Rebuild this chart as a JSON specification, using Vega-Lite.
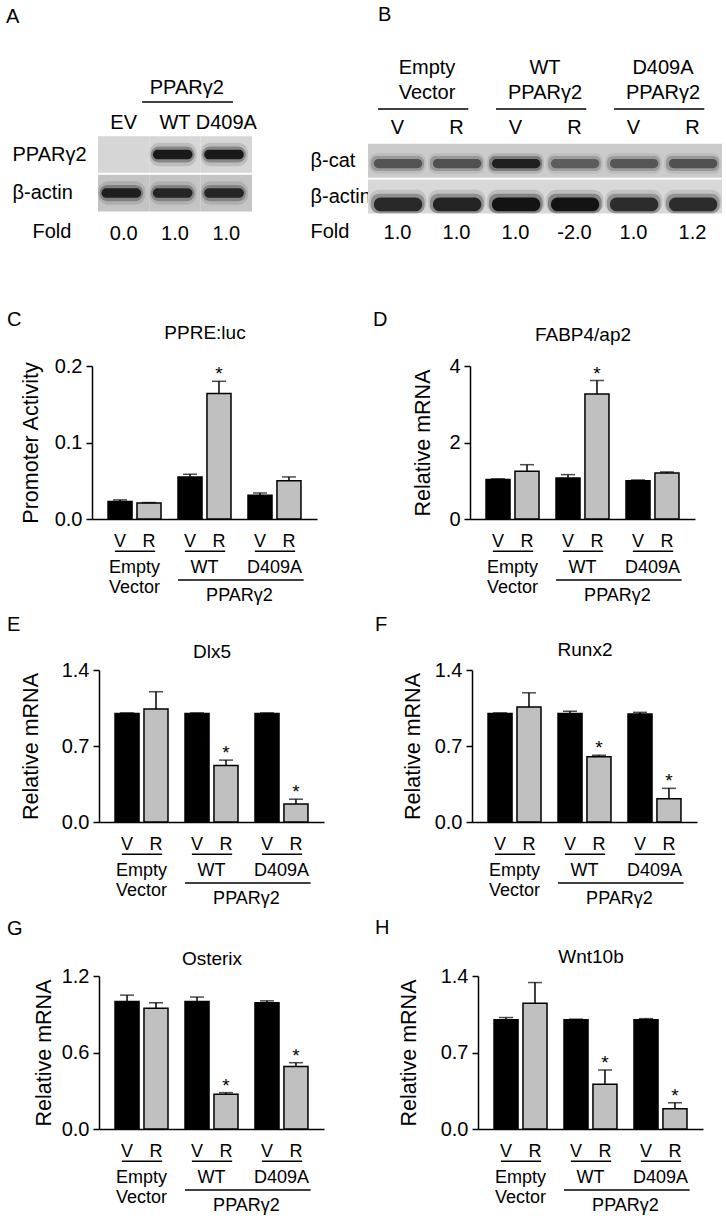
{
"$schema": "https://vega.github.io/schema/vega-lite/v6.json",
"padding": {"left": 0, "top": 5, "right": 0, "bottom": 0},
"config": {
 "font": "Liberation Sans",
 "view": {"stroke": null},
 "axis": {"labelColor": "black", "titleColor": "black", "domainColor": "black", "tickColor": "black", "grid": false, "titleFontWeight": "normal", "labelFont": "Liberation Sans", "titleFont": "Liberation Sans"},
 "axisQuantitative": {"tickSize": 6, "tickWidth": 1.5, "domainWidth": 1.5, "labelFontSize": 20, "labelPadding": 4, "titleFontSize": 21.5},
 "title": {"fontSize": 20, "fontWeight": "normal", "color": "black", "anchor": "start", "frame": "group", "font": "Liberation Sans"},
 "text": {"color": "black", "font": "Liberation Sans"}
},
"datasets": {
 "bars": [
  {"panel":"C","group":"EV","trt":"V","value":0.023,"hi":0.025,"sig":""},
  {"panel":"C","group":"EV","trt":"R","value":0.021,"hi":0.0215,"sig":""},
  {"panel":"C","group":"WT","trt":"V","value":0.055,"hi":0.0585,"sig":""},
  {"panel":"C","group":"WT","trt":"R","value":0.164,"hi":0.18,"sig":"*"},
  {"panel":"C","group":"D409A","trt":"V","value":0.031,"hi":0.034,"sig":""},
  {"panel":"C","group":"D409A","trt":"R","value":0.05,"hi":0.055,"sig":""},
  {"panel":"D","group":"EV","trt":"V","value":1.03,"hi":1.05,"sig":""},
  {"panel":"D","group":"EV","trt":"R","value":1.25,"hi":1.42,"sig":""},
  {"panel":"D","group":"WT","trt":"V","value":1.07,"hi":1.16,"sig":""},
  {"panel":"D","group":"WT","trt":"R","value":3.27,"hi":3.62,"sig":"*"},
  {"panel":"D","group":"D409A","trt":"V","value":1.0,"hi":1.02,"sig":""},
  {"panel":"D","group":"D409A","trt":"R","value":1.2,"hi":1.23,"sig":""},
  {"panel":"E","group":"EV","trt":"V","value":1.0,"hi":1.005,"sig":""},
  {"panel":"E","group":"EV","trt":"R","value":1.04,"hi":1.2,"sig":""},
  {"panel":"E","group":"WT","trt":"V","value":1.0,"hi":1.005,"sig":""},
  {"panel":"E","group":"WT","trt":"R","value":0.52,"hi":0.57,"sig":"*"},
  {"panel":"E","group":"D409A","trt":"V","value":1.0,"hi":1.005,"sig":""},
  {"panel":"E","group":"D409A","trt":"R","value":0.165,"hi":0.21,"sig":"*"},
  {"panel":"F","group":"EV","trt":"V","value":1.0,"hi":1.005,"sig":""},
  {"panel":"F","group":"EV","trt":"R","value":1.06,"hi":1.19,"sig":""},
  {"panel":"F","group":"WT","trt":"V","value":1.0,"hi":1.02,"sig":""},
  {"panel":"F","group":"WT","trt":"R","value":0.6,"hi":0.615,"sig":"*"},
  {"panel":"F","group":"D409A","trt":"V","value":0.995,"hi":1.01,"sig":""},
  {"panel":"F","group":"D409A","trt":"R","value":0.215,"hi":0.31,"sig":"*"},
  {"panel":"G","group":"EV","trt":"V","value":1.0,"hi":1.05,"sig":""},
  {"panel":"G","group":"EV","trt":"R","value":0.947,"hi":0.99,"sig":""},
  {"panel":"G","group":"WT","trt":"V","value":1.0,"hi":1.035,"sig":""},
  {"panel":"G","group":"WT","trt":"R","value":0.272,"hi":0.285,"sig":"*"},
  {"panel":"G","group":"D409A","trt":"V","value":0.99,"hi":1.005,"sig":""},
  {"panel":"G","group":"D409A","trt":"R","value":0.49,"hi":0.52,"sig":"*"},
  {"panel":"H","group":"EV","trt":"V","value":1.0,"hi":1.02,"sig":""},
  {"panel":"H","group":"EV","trt":"R","value":1.15,"hi":1.34,"sig":""},
  {"panel":"H","group":"WT","trt":"V","value":1.0,"hi":1.005,"sig":""},
  {"panel":"H","group":"WT","trt":"R","value":0.41,"hi":0.54,"sig":"*"},
  {"panel":"H","group":"D409A","trt":"V","value":1.0,"hi":1.01,"sig":""},
  {"panel":"H","group":"D409A","trt":"R","value":0.185,"hi":0.24,"sig":"*"}
 ],
 "trtlabs": [
  {"group":"EV","trt":"V","tier":"trt"},{"group":"EV","trt":"R","tier":"trt"},
  {"group":"WT","trt":"V","tier":"trt"},{"group":"WT","trt":"R","tier":"trt"},
  {"group":"D409A","trt":"V","tier":"trt"},{"group":"D409A","trt":"R","tier":"trt"}
 ],
 "grplabs": [
  {"group":"EV","label":"Empty\nVector","tier":"grp"},
  {"group":"WT","label":"WT","tier":"grp"},
  {"group":"D409A","label":"D409A","tier":"grp"}
 ],
 "family": [{"from":"WT","to":"D409A","label":"PPARγ2","tier":"fam"}],
 "blotA": [
  {"lane":"EV","protein":"PPARγ2","level":0},
  {"lane":"WT","protein":"PPARγ2","level":0.95},
  {"lane":"D409A","protein":"PPARγ2","level":0.95},
  {"lane":"EV","protein":"β-actin","level":0.9},
  {"lane":"WT","protein":"β-actin","level":0.85},
  {"lane":"D409A","protein":"β-actin","level":0.85}
 ],
 "blotAfold": [{"lane":"EV","fold":"0.0"},{"lane":"WT","fold":"1.0"},{"lane":"D409A","fold":"1.0"}],
 "blotAhead": [{"from":"EV","to":"D409A","center":"WT","label":"PPARγ2"}],
 "blotB": [
  {"lane":"EV V","protein":"β-cat","level":0.6},
  {"lane":"EV R","protein":"β-cat","level":0.62},
  {"lane":"WT V","protein":"β-cat","level":1.0},
  {"lane":"WT R","protein":"β-cat","level":0.55},
  {"lane":"D V","protein":"β-cat","level":0.58},
  {"lane":"D R","protein":"β-cat","level":0.62},
  {"lane":"EV V","protein":"β-actin","level":0.85},
  {"lane":"EV R","protein":"β-actin","level":0.88},
  {"lane":"WT V","protein":"β-actin","level":1.0},
  {"lane":"WT R","protein":"β-actin","level":1.0},
  {"lane":"D V","protein":"β-actin","level":0.82},
  {"lane":"D R","protein":"β-actin","level":0.82}
 ],
 "blotBlanes": [
  {"lane":"EV V","label":"V"},{"lane":"EV R","label":"R"},
  {"lane":"WT V","label":"V"},{"lane":"WT R","label":"R"},
  {"lane":"D V","label":"V"},{"lane":"D R","label":"R"}
 ],
 "blotBfold": [
  {"lane":"EV V","fold":"1.0"},{"lane":"EV R","fold":"1.0"},
  {"lane":"WT V","fold":"1.0"},{"lane":"WT R","fold":"-2.0"},
  {"lane":"D V","fold":"1.0"},{"lane":"D R","fold":"1.2"}
 ],
 "blotBhead": [
  {"from":"EV V","to":"EV R","label":"Empty\nVector"},
  {"from":"WT V","to":"WT R","label":"WT\nPPARγ2"},
  {"from":"D V","to":"D R","label":"D409A\nPPARγ2"}
 ]
},
"spacing": 10,
"resolve": {"scale": {"xOffset": "independent"}},
"vconcat": [
 {
  "hconcat": [
   {"width": 6, "height": 1, "data": {"values": []}, "mark": "rect"},
   {
    "width": 154, "height": 191,
    "title": {"text": "A", "dx": -92, "offset": 32.5},
    "layer": [
     {"data": {"name": "blotA"}, "mark": {"type": "rect"},
      "encoding": {
       "x": {"field": "lane", "type": "nominal", "scale": {"domain": ["EV","WT","D409A"], "paddingInner": 0, "paddingOuter": 0}, "axis": null},
       "y": {"field": "protein", "type": "nominal", "scale": {"domain": ["head","lane","PPARγ2","β-actin","Fold"], "paddingInner": 0.05, "paddingOuter": 0},
             "axis": {"title": null, "ticks": false, "tickSize": 0, "domain": false, "labelAlign": "left", "labelFontSize": 20, "zindex": 0,
                      "labelPadding": {"condition": {"test": "datum.value === 'Fold'", "value": 66}, "value": 86},
                      "labelExpr": "datum.value === 'head' || datum.value === 'lane' ? '' : datum.value"}},
       "fill": {"condition": {"test": "datum.protein === 'PPARγ2'", "value": "#d6d6d6"}, "value": "#c4c4c4"}
      }},
     {"data": {"name": "blotA"}, "mark": {"type": "rect", "cornerRadius": 10, "fill": "black", "opacity": 0.12},
      "encoding": {
       "x": {"field": "lane", "type": "nominal", "bandPosition": 0.0},
       "x2": {"field": "lane", "bandPosition": 0.92},
       "y": {"field": "protein", "type": "nominal", "bandPosition": 0.18},
       "y2": {"field": "protein", "bandPosition": 0.82},
       "fillOpacity": {"field": "level", "type": "quantitative", "scale": null}
      }},
     {"data": {"name": "blotA"}, "mark": {"type": "rect", "cornerRadius": 8, "fill": "black", "opacity": 0.3},
      "encoding": {
       "x": {"field": "lane", "type": "nominal", "bandPosition": 0.03},
       "x2": {"field": "lane", "bandPosition": 0.88},
       "y": {"field": "protein", "type": "nominal", "bandPosition": 0.28},
       "y2": {"field": "protein", "bandPosition": 0.72},
       "fillOpacity": {"field": "level", "type": "quantitative", "scale": null}
      }},
     {"data": {"name": "blotA"}, "mark": {"type": "rect", "cornerRadius": 6, "fill": "#0a0a0a", "opacity": 0.92},
      "encoding": {
       "x": {"field": "lane", "type": "nominal", "bandPosition": 0.07},
       "x2": {"field": "lane", "bandPosition": 0.84},
       "y": {"field": "protein", "type": "nominal", "bandPosition": 0.37},
       "y2": {"field": "protein", "bandPosition": 0.63},
       "fillOpacity": {"field": "level", "type": "quantitative", "scale": null}
      }},
     {"data": {"name": "blotA"}, "transform": [{"filter": "datum.protein === 'PPARγ2'"}],
      "mark": {"type": "text", "fontSize": 20},
      "encoding": {
       "x": {"field": "lane", "type": "nominal"},
       "y": {"datum": "lane", "type": "nominal", "bandPosition": 0.69},
       "text": {"field": "lane"}
      }},
     {"data": {"name": "blotAfold"}, "mark": {"type": "text", "fontSize": 20},
      "encoding": {
       "x": {"field": "lane", "type": "nominal"},
       "y": {"datum": "Fold", "type": "nominal", "bandPosition": 0.55},
       "text": {"field": "fold"}
      }},
     {"data": {"name": "blotAhead"}, "mark": {"type": "text", "fontSize": 20},
      "encoding": {
       "x": {"field": "center", "type": "nominal", "bandPosition": 0.73},
       "y": {"datum": "head", "type": "nominal", "bandPosition": 0.79},
       "text": {"field": "label"}
      }},
     {"data": {"name": "blotAhead"}, "mark": {"type": "rule", "strokeWidth": 1.5, "color": "black"},
      "encoding": {
       "x": {"field": "from", "type": "nominal", "bandPosition": 0.86},
       "x2": {"field": "to", "bandPosition": 0.63},
       "y": {"datum": "lane", "type": "nominal", "bandPosition": 0.12}
      }}
    ]
   },
   {"width": 53, "height": 1, "data": {"values": []}, "mark": "rect"},
   {
    "width": 354, "height": 190.5,
    "title": {"text": "B", "dx": 10, "offset": 32.5},
    "layer": [
     {"data": {"name": "blotB"}, "mark": {"type": "rect"},
      "encoding": {
       "x": {"field": "lane", "type": "nominal", "scale": {"domain": ["EV V","EV R","WT V","WT R","D V","D R"], "paddingInner": 0, "paddingOuter": 0}, "axis": null},
       "y": {"field": "protein", "type": "nominal", "scale": {"domain": ["head","vr","β-cat","β-actin","Fold"], "paddingInner": 0.05, "paddingOuter": 0.18, "align": 1},
             "axis": {"title": null, "ticks": false, "tickSize": 0, "domain": false, "labelAlign": "left", "labelFontSize": 20, "labelPadding": 58, "zindex": 0,
                      "labelExpr": "datum.value === 'head' || datum.value === 'vr' ? '' : datum.value"}},
       "fill": {"condition": {"test": "datum.protein === 'β-cat'", "value": "#cbcbcb"}, "value": "#d8d8d8"}
      }},
     {"data": {"name": "blotB"}, "transform": [{"filter": "datum.protein === 'β-cat'"}],
      "mark": {"type": "rect", "cornerRadius": 8, "fill": "black", "opacity": 0.12},
      "encoding": {
       "x": {"field": "lane", "type": "nominal", "bandPosition": 0.02},
       "x2": {"field": "lane", "bandPosition": 0.98},
       "y": {"field": "protein", "type": "nominal", "bandPosition": 0.28},
       "y2": {"field": "protein", "bandPosition": 0.88},
       "fillOpacity": {"field": "level", "type": "quantitative", "scale": null}
      }},
     {"data": {"name": "blotB"}, "transform": [{"filter": "datum.protein === 'β-cat'"}],
      "mark": {"type": "rect", "cornerRadius": 6, "fill": "black", "opacity": 0.3},
      "encoding": {
       "x": {"field": "lane", "type": "nominal", "bandPosition": 0.05},
       "x2": {"field": "lane", "bandPosition": 0.95},
       "y": {"field": "protein", "type": "nominal", "bandPosition": 0.36},
       "y2": {"field": "protein", "bandPosition": 0.8},
       "fillOpacity": {"field": "level", "type": "quantitative", "scale": null}
      }},
     {"data": {"name": "blotB"}, "transform": [{"filter": "datum.protein === 'β-cat'"}],
      "mark": {"type": "rect", "cornerRadius": 5, "fill": "#111111", "opacity": 0.85},
      "encoding": {
       "x": {"field": "lane", "type": "nominal", "bandPosition": 0.1},
       "x2": {"field": "lane", "bandPosition": 0.92},
       "y": {"field": "protein", "type": "nominal", "bandPosition": 0.45},
       "y2": {"field": "protein", "bandPosition": 0.72},
       "fillOpacity": {"field": "level", "type": "quantitative", "scale": null}
      }},
     {"data": {"name": "blotB"}, "transform": [{"filter": "datum.protein === 'β-actin'"}],
      "mark": {"type": "rect", "cornerRadius": 10, "fill": "black", "opacity": 0.12},
      "encoding": {
       "x": {"field": "lane", "type": "nominal", "bandPosition": 0.02},
       "x2": {"field": "lane", "bandPosition": 0.99},
       "y": {"field": "protein", "type": "nominal", "bandPosition": 0.3},
       "y2": {"field": "protein", "bandPosition": 1.0},
       "fillOpacity": {"field": "level", "type": "quantitative", "scale": null}
      }},
     {"data": {"name": "blotB"}, "transform": [{"filter": "datum.protein === 'β-actin'"}],
      "mark": {"type": "rect", "cornerRadius": 8, "fill": "black", "opacity": 0.3},
      "encoding": {
       "x": {"field": "lane", "type": "nominal", "bandPosition": 0.05},
       "x2": {"field": "lane", "bandPosition": 0.96},
       "y": {"field": "protein", "type": "nominal", "bandPosition": 0.42},
       "y2": {"field": "protein", "bandPosition": 0.99},
       "fillOpacity": {"field": "level", "type": "quantitative", "scale": null}
      }},
     {"data": {"name": "blotB"}, "transform": [{"filter": "datum.protein === 'β-actin'"}],
      "mark": {"type": "rect", "cornerRadius": 7, "fill": "#0a0a0a", "opacity": 0.92},
      "encoding": {
       "x": {"field": "lane", "type": "nominal", "bandPosition": 0.1},
       "x2": {"field": "lane", "bandPosition": 0.92},
       "y": {"field": "protein", "type": "nominal", "bandPosition": 0.53},
       "y2": {"field": "protein", "bandPosition": 0.93},
       "fillOpacity": {"field": "level", "type": "quantitative", "scale": null}
      }},
     {"data": {"name": "blotBlanes"}, "mark": {"type": "text", "fontSize": 20},
      "encoding": {
       "x": {"field": "lane", "type": "nominal"},
       "y": {"datum": "vr", "type": "nominal", "bandPosition": 0.59},
       "text": {"field": "label"}
      }},
     {"data": {"name": "blotBfold"}, "mark": {"type": "text", "fontSize": 20},
      "encoding": {
       "x": {"field": "lane", "type": "nominal"},
       "y": {"datum": "Fold", "type": "nominal", "bandPosition": 0.52},
       "text": {"field": "fold"}
      }},
     {"data": {"name": "blotBhead"}, "mark": {"type": "text", "fontSize": 20, "lineBreak": "\n", "lineHeight": 25, "dy": -12.5},
      "encoding": {
       "x": {"field": "from", "type": "nominal", "bandPosition": 1.0},
       "y": {"datum": "head", "type": "nominal", "bandPosition": 0.25},
       "text": {"field": "label"}
      }},
     {"data": {"name": "blotBhead"}, "mark": {"type": "rule", "strokeWidth": 1.5, "color": "black"},
      "encoding": {
       "x": {"field": "from", "type": "nominal", "bandPosition": 0.17},
       "x2": {"field": "to", "bandPosition": 0.7},
       "y": {"datum": "vr", "type": "nominal", "bandPosition": 0.035}
      }}
    ]
   }
  ],
  "spacing": 0,
  "resolve": {"scale": {"xOffset": "independent"}}
 },
 {"width": 1, "height": 40, "data": {"values": []}, "mark": "rect"},
 {
  "hconcat": [
   {"width": 7, "height": 1, "data": {"values": []}, "mark": "rect"},
   {
    "vconcat": [
     {
      "width": 225, "height": 153,
      "title": {"text": "C", "dx": -85, "offset": -7},
      "data": {"name": "bars"},
      "transform": [{"filter": "datum.panel === 'C'"}],
      "resolve": {"axis": {"x": "independent"}},
      "layer": [
       {"mark": {"type": "bar", "stroke": "black", "strokeWidth": 1.5},
        "encoding": {
         "x": {"field": "group", "type": "nominal", "sort": null, "scale": {"domain": ["EV","WT","D409A"], "paddingInner": 0.243, "paddingOuter": 0.229}, "axis": {"orient": "bottom", "labels": false, "ticks": false, "title": null, "domainWidth": 1.5, "domainColor": "black"}},
         "xOffset": {"field": "trt", "type": "nominal", "scale": {"domain": ["V","R"], "paddingInner": 0.17, "paddingOuter": 0}},
         "y": {"field": "value", "type": "quantitative", "title": "Promoter Activity", "scale": {"domain": [0, 0.2], "nice": false}, "axis": {"values": [0, 0.1, 0.2], "format": ".1f", "title": "Promoter Activity", "titlePadding": 12}},
         "fill": {"condition": {"test": "datum.trt === 'V'", "value": "black"}, "value": "#c0c0c0"}
        }},
       {"mark": {"type": "rule", "strokeWidth": 1.5, "color": "black"},
        "encoding": {
         "x": {"field": "group", "type": "nominal", "axis": {"orient": "top", "labels": false, "ticks": false, "domain": false, "title": "PPRE:luc", "titleFontSize": 19, "titlePadding": 24}},
         "xOffset": {"field": "trt", "type": "nominal"},
         "y": {"field": "value", "type": "quantitative", "title": "Promoter Activity"},
         "y2": {"field": "hi"}
        }},
       {"mark": {"type": "tick", "orient": "horizontal", "size": 14, "thickness": 1.5, "color": "black"},
        "encoding": {
         "x": {"field": "group", "type": "nominal", "axis": null},
         "xOffset": {"field": "trt", "type": "nominal"},
         "y": {"field": "hi", "type": "quantitative", "title": "Promoter Activity"}
        }},
       {"mark": {"type": "text", "baseline": "alphabetic", "dy": -1, "fontSize": 19},
        "encoding": {
         "x": {"field": "group", "type": "nominal", "axis": null},
         "xOffset": {"field": "trt", "type": "nominal"},
         "y": {"field": "hi", "type": "quantitative", "title": "Promoter Activity"},
         "text": {"field": "sig"}
        }}
      ]
     },
     {
      "width": 225, "height": 76,
      "layer": [
       {"data": {"name": "trtlabs"}, "mark": {"type": "text", "fontSize": 18},
        "encoding": {
         "x": {"field": "group", "type": "nominal", "sort": null, "scale": {"domain": ["EV","WT","D409A"], "paddingInner": 0.243, "paddingOuter": 0.229}, "axis": null},
         "xOffset": {"field": "trt", "type": "nominal", "scale": {"domain": ["V","R"], "paddingInner": 0.17, "paddingOuter": 0}},
         "y": {"field": "tier", "type": "nominal", "bandPosition": 0.62, "scale": {"domain": ["trt","grp","fam"], "paddingInner": 0, "paddingOuter": 0}, "axis": null},
         "text": {"field": "trt"}
        }},
       {"data": {"name": "grplabs"}, "mark": {"type": "rule", "strokeWidth": 1.5, "color": "black"},
        "encoding": {
         "x": {"field": "group", "type": "nominal", "bandPosition": 0.13},
         "x2": {"field": "group", "bandPosition": 0.89},
         "y": {"datum": "trt", "type": "nominal", "bandPosition": 1.0}
        }},
       {"data": {"name": "grplabs"}, "mark": {"type": "text", "fontSize": 18, "baseline": "top", "lineBreak": "\n", "lineHeight": 20},
        "encoding": {
         "x": {"field": "group", "type": "nominal"},
         "y": {"field": "tier", "type": "nominal", "bandPosition": 0.31},
         "text": {"field": "label"}
        }},
       {"data": {"name": "family"}, "mark": {"type": "rule", "strokeWidth": 1.5, "color": "black"},
        "encoding": {
         "x": {"field": "from", "type": "nominal", "bandPosition": 0},
         "x2": {"field": "to", "bandPosition": 1.05},
         "y": {"datum": "fam", "type": "nominal", "bandPosition": 0.13}
        }},
       {"data": {"name": "family"}, "mark": {"type": "text", "fontSize": 18},
        "encoding": {
         "x": {"field": "from", "type": "nominal", "bandPosition": 1.16},
         "y": {"field": "tier", "type": "nominal", "bandPosition": 0.76},
         "text": {"field": "label"}
        }}
      ]
     }
    ],
    "spacing": 7, "bounds": "flush"
   },
   {"width": 56, "height": 1, "data": {"values": []}, "mark": "rect"},
   {
    "vconcat": [
     {
      "width": 225, "height": 153,
      "title": {"text": "D", "dx": -97, "offset": -5},
      "data": {"name": "bars"},
      "transform": [{"filter": "datum.panel === 'D'"}],
      "resolve": {"axis": {"x": "independent"}},
      "layer": [
       {"mark": {"type": "bar", "stroke": "black", "strokeWidth": 1.5},
        "encoding": {
         "x": {"field": "group", "type": "nominal", "sort": null, "scale": {"domain": ["EV","WT","D409A"], "paddingInner": 0.243, "paddingOuter": 0.229}, "axis": {"orient": "bottom", "labels": false, "ticks": false, "title": null, "domainWidth": 1.5, "domainColor": "black"}},
         "xOffset": {"field": "trt", "type": "nominal", "scale": {"domain": ["V","R"], "paddingInner": 0.17, "paddingOuter": 0}},
         "y": {"field": "value", "type": "quantitative", "title": "Relative mRNA", "scale": {"domain": [0, 4], "nice": false}, "axis": {"values": [0, 2, 4], "format": "d", "title": "Relative mRNA", "titlePadding": 14}},
         "fill": {"condition": {"test": "datum.trt === 'V'", "value": "black"}, "value": "#c0c0c0"}
        }},
       {"mark": {"type": "rule", "strokeWidth": 1.5, "color": "black"},
        "encoding": {
         "x": {"field": "group", "type": "nominal", "axis": {"orient": "top", "labels": false, "ticks": false, "domain": false, "title": "FABP4/ap2", "titleFontSize": 19, "titlePadding": 22}},
         "xOffset": {"field": "trt", "type": "nominal"},
         "y": {"field": "value", "type": "quantitative", "title": "Relative mRNA"},
         "y2": {"field": "hi"}
        }},
       {"mark": {"type": "tick", "orient": "horizontal", "size": 14, "thickness": 1.5, "color": "black"},
        "encoding": {
         "x": {"field": "group", "type": "nominal", "axis": null},
         "xOffset": {"field": "trt", "type": "nominal"},
         "y": {"field": "hi", "type": "quantitative", "title": "Relative mRNA"}
        }},
       {"mark": {"type": "text", "baseline": "alphabetic", "dy": -1, "fontSize": 19},
        "encoding": {
         "x": {"field": "group", "type": "nominal", "axis": null},
         "xOffset": {"field": "trt", "type": "nominal"},
         "y": {"field": "hi", "type": "quantitative", "title": "Relative mRNA"},
         "text": {"field": "sig"}
        }}
      ]
     },
     {
      "width": 225, "height": 76,
      "layer": [
       {"data": {"name": "trtlabs"}, "mark": {"type": "text", "fontSize": 18},
        "encoding": {
         "x": {"field": "group", "type": "nominal", "sort": null, "scale": {"domain": ["EV","WT","D409A"], "paddingInner": 0.243, "paddingOuter": 0.229}, "axis": null},
         "xOffset": {"field": "trt", "type": "nominal", "scale": {"domain": ["V","R"], "paddingInner": 0.17, "paddingOuter": 0}},
         "y": {"field": "tier", "type": "nominal", "bandPosition": 0.62, "scale": {"domain": ["trt","grp","fam"], "paddingInner": 0, "paddingOuter": 0}, "axis": null},
         "text": {"field": "trt"}
        }},
       {"data": {"name": "grplabs"}, "mark": {"type": "rule", "strokeWidth": 1.5, "color": "black"},
        "encoding": {
         "x": {"field": "group", "type": "nominal", "bandPosition": 0.13},
         "x2": {"field": "group", "bandPosition": 0.89},
         "y": {"datum": "trt", "type": "nominal", "bandPosition": 1.0}
        }},
       {"data": {"name": "grplabs"}, "mark": {"type": "text", "fontSize": 18, "baseline": "top", "lineBreak": "\n", "lineHeight": 20},
        "encoding": {
         "x": {"field": "group", "type": "nominal"},
         "y": {"field": "tier", "type": "nominal", "bandPosition": 0.31},
         "text": {"field": "label"}
        }},
       {"data": {"name": "family"}, "mark": {"type": "rule", "strokeWidth": 1.5, "color": "black"},
        "encoding": {
         "x": {"field": "from", "type": "nominal", "bandPosition": 0},
         "x2": {"field": "to", "bandPosition": 1.05},
         "y": {"datum": "fam", "type": "nominal", "bandPosition": 0.13}
        }},
       {"data": {"name": "family"}, "mark": {"type": "text", "fontSize": 18},
        "encoding": {
         "x": {"field": "from", "type": "nominal", "bandPosition": 1.16},
         "y": {"field": "tier", "type": "nominal", "bandPosition": 0.76},
         "text": {"field": "label"}
        }}
      ]
     }
    ],
    "spacing": 7, "bounds": "flush"
   }
  ],
  "spacing": 0,
  "resolve": {"scale": {"xOffset": "independent"}}
 },
 {
  "hconcat": [
   {"width": 7, "height": 1, "data": {"values": []}, "mark": "rect"},
   {
    "vconcat": [
     {
      "width": 225, "height": 152,
      "title": {"text": "E", "dx": -92, "offset": 7},
      "data": {"name": "bars"},
      "transform": [{"filter": "datum.panel === 'E'"}],
      "resolve": {"axis": {"x": "independent"}},
      "layer": [
       {"mark": {"type": "bar", "stroke": "black", "strokeWidth": 1.5},
        "encoding": {
         "x": {"field": "group", "type": "nominal", "sort": null, "scale": {"domain": ["EV","WT","D409A"], "paddingInner": 0.243, "paddingOuter": 0.229}, "axis": {"orient": "bottom", "labels": false, "ticks": false, "title": null, "domainWidth": 1.5, "domainColor": "black"}},
         "xOffset": {"field": "trt", "type": "nominal", "scale": {"domain": ["V","R"], "paddingInner": 0.17, "paddingOuter": 0}},
         "y": {"field": "value", "type": "quantitative", "title": "Relative mRNA", "scale": {"domain": [0, 1.4], "nice": false}, "axis": {"values": [0, 0.7, 1.4], "format": ".1f", "title": "Relative mRNA", "titlePadding": 19}},
         "fill": {"condition": {"test": "datum.trt === 'V'", "value": "black"}, "value": "#c0c0c0"}
        }},
       {"mark": {"type": "rule", "strokeWidth": 1.5, "color": "black"},
        "encoding": {
         "x": {"field": "group", "type": "nominal", "axis": {"orient": "top", "labels": false, "ticks": false, "domain": false, "title": "Dlx5", "titleFontSize": 19, "titlePadding": 9}},
         "xOffset": {"field": "trt", "type": "nominal"},
         "y": {"field": "value", "type": "quantitative", "title": "Relative mRNA"},
         "y2": {"field": "hi"}
        }},
       {"mark": {"type": "tick", "orient": "horizontal", "size": 14, "thickness": 1.5, "color": "black"},
        "encoding": {
         "x": {"field": "group", "type": "nominal", "axis": null},
         "xOffset": {"field": "trt", "type": "nominal"},
         "y": {"field": "hi", "type": "quantitative", "title": "Relative mRNA"}
        }},
       {"mark": {"type": "text", "baseline": "alphabetic", "dy": -1, "fontSize": 19},
        "encoding": {
         "x": {"field": "group", "type": "nominal", "axis": null},
         "xOffset": {"field": "trt", "type": "nominal"},
         "y": {"field": "hi", "type": "quantitative", "title": "Relative mRNA"},
         "text": {"field": "sig"}
        }}
      ]
     },
     {
      "width": 225, "height": 76,
      "layer": [
       {"data": {"name": "trtlabs"}, "mark": {"type": "text", "fontSize": 18},
        "encoding": {
         "x": {"field": "group", "type": "nominal", "sort": null, "scale": {"domain": ["EV","WT","D409A"], "paddingInner": 0.243, "paddingOuter": 0.229}, "axis": null},
         "xOffset": {"field": "trt", "type": "nominal", "scale": {"domain": ["V","R"], "paddingInner": 0.17, "paddingOuter": 0}},
         "y": {"field": "tier", "type": "nominal", "bandPosition": 0.62, "scale": {"domain": ["trt","grp","fam"], "paddingInner": 0, "paddingOuter": 0}, "axis": null},
         "text": {"field": "trt"}
        }},
       {"data": {"name": "grplabs"}, "mark": {"type": "rule", "strokeWidth": 1.5, "color": "black"},
        "encoding": {
         "x": {"field": "group", "type": "nominal", "bandPosition": 0.13},
         "x2": {"field": "group", "bandPosition": 0.89},
         "y": {"datum": "trt", "type": "nominal", "bandPosition": 1.0}
        }},
       {"data": {"name": "grplabs"}, "mark": {"type": "text", "fontSize": 18, "baseline": "top", "lineBreak": "\n", "lineHeight": 20},
        "encoding": {
         "x": {"field": "group", "type": "nominal"},
         "y": {"field": "tier", "type": "nominal", "bandPosition": 0.31},
         "text": {"field": "label"}
        }},
       {"data": {"name": "family"}, "mark": {"type": "rule", "strokeWidth": 1.5, "color": "black"},
        "encoding": {
         "x": {"field": "from", "type": "nominal", "bandPosition": 0},
         "x2": {"field": "to", "bandPosition": 1.05},
         "y": {"datum": "fam", "type": "nominal", "bandPosition": 0.13}
        }},
       {"data": {"name": "family"}, "mark": {"type": "text", "fontSize": 18},
        "encoding": {
         "x": {"field": "from", "type": "nominal", "bandPosition": 1.16},
         "y": {"field": "tier", "type": "nominal", "bandPosition": 0.76},
         "text": {"field": "label"}
        }}
      ]
     }
    ],
    "spacing": 7, "bounds": "flush"
   },
   {"width": 51, "height": 1, "data": {"values": []}, "mark": "rect"},
   {
    "vconcat": [
     {
      "width": 225, "height": 152,
      "title": {"text": "F", "dx": -97, "offset": 5},
      "data": {"name": "bars"},
      "transform": [{"filter": "datum.panel === 'F'"}],
      "resolve": {"axis": {"x": "independent"}},
      "layer": [
       {"mark": {"type": "bar", "stroke": "black", "strokeWidth": 1.5},
        "encoding": {
         "x": {"field": "group", "type": "nominal", "sort": null, "scale": {"domain": ["EV","WT","D409A"], "paddingInner": 0.243, "paddingOuter": 0.229}, "axis": {"orient": "bottom", "labels": false, "ticks": false, "title": null, "domainWidth": 1.5, "domainColor": "black"}},
         "xOffset": {"field": "trt", "type": "nominal", "scale": {"domain": ["V","R"], "paddingInner": 0.17, "paddingOuter": 0}},
         "y": {"field": "value", "type": "quantitative", "title": "Relative mRNA", "scale": {"domain": [0, 1.4], "nice": false}, "axis": {"values": [0, 0.7, 1.4], "format": ".1f", "title": "Relative mRNA", "titlePadding": 10}},
         "fill": {"condition": {"test": "datum.trt === 'V'", "value": "black"}, "value": "#c0c0c0"}
        }},
       {"mark": {"type": "rule", "strokeWidth": 1.5, "color": "black"},
        "encoding": {
         "x": {"field": "group", "type": "nominal", "axis": {"orient": "top", "labels": false, "ticks": false, "domain": false, "title": "Runx2", "titleFontSize": 19, "titlePadding": 11}},
         "xOffset": {"field": "trt", "type": "nominal"},
         "y": {"field": "value", "type": "quantitative", "title": "Relative mRNA"},
         "y2": {"field": "hi"}
        }},
       {"mark": {"type": "tick", "orient": "horizontal", "size": 14, "thickness": 1.5, "color": "black"},
        "encoding": {
         "x": {"field": "group", "type": "nominal", "axis": null},
         "xOffset": {"field": "trt", "type": "nominal"},
         "y": {"field": "hi", "type": "quantitative", "title": "Relative mRNA"}
        }},
       {"mark": {"type": "text", "baseline": "alphabetic", "dy": -1, "fontSize": 19},
        "encoding": {
         "x": {"field": "group", "type": "nominal", "axis": null},
         "xOffset": {"field": "trt", "type": "nominal"},
         "y": {"field": "hi", "type": "quantitative", "title": "Relative mRNA"},
         "text": {"field": "sig"}
        }}
      ]
     },
     {
      "width": 225, "height": 76,
      "layer": [
       {"data": {"name": "trtlabs"}, "mark": {"type": "text", "fontSize": 18},
        "encoding": {
         "x": {"field": "group", "type": "nominal", "sort": null, "scale": {"domain": ["EV","WT","D409A"], "paddingInner": 0.243, "paddingOuter": 0.229}, "axis": null},
         "xOffset": {"field": "trt", "type": "nominal", "scale": {"domain": ["V","R"], "paddingInner": 0.17, "paddingOuter": 0}},
         "y": {"field": "tier", "type": "nominal", "bandPosition": 0.62, "scale": {"domain": ["trt","grp","fam"], "paddingInner": 0, "paddingOuter": 0}, "axis": null},
         "text": {"field": "trt"}
        }},
       {"data": {"name": "grplabs"}, "mark": {"type": "rule", "strokeWidth": 1.5, "color": "black"},
        "encoding": {
         "x": {"field": "group", "type": "nominal", "bandPosition": 0.13},
         "x2": {"field": "group", "bandPosition": 0.89},
         "y": {"datum": "trt", "type": "nominal", "bandPosition": 1.0}
        }},
       {"data": {"name": "grplabs"}, "mark": {"type": "text", "fontSize": 18, "baseline": "top", "lineBreak": "\n", "lineHeight": 20},
        "encoding": {
         "x": {"field": "group", "type": "nominal"},
         "y": {"field": "tier", "type": "nominal", "bandPosition": 0.31},
         "text": {"field": "label"}
        }},
       {"data": {"name": "family"}, "mark": {"type": "rule", "strokeWidth": 1.5, "color": "black"},
        "encoding": {
         "x": {"field": "from", "type": "nominal", "bandPosition": 0},
         "x2": {"field": "to", "bandPosition": 1.05},
         "y": {"datum": "fam", "type": "nominal", "bandPosition": 0.13}
        }},
       {"data": {"name": "family"}, "mark": {"type": "text", "fontSize": 18},
        "encoding": {
         "x": {"field": "from", "type": "nominal", "bandPosition": 1.16},
         "y": {"field": "tier", "type": "nominal", "bandPosition": 0.76},
         "text": {"field": "label"}
        }}
      ]
     }
    ],
    "spacing": 7, "bounds": "flush"
   }
  ],
  "spacing": 0,
  "resolve": {"scale": {"xOffset": "independent"}}
 },
 {
  "hconcat": [
   {"width": 7, "height": 1, "data": {"values": []}, "mark": "rect"},
   {
    "vconcat": [
     {
      "width": 225, "height": 153,
      "title": {"text": "G", "dx": -92, "offset": 10},
      "data": {"name": "bars"},
      "transform": [{"filter": "datum.panel === 'G'"}],
      "resolve": {"axis": {"x": "independent"}},
      "layer": [
       {"mark": {"type": "bar", "stroke": "black", "strokeWidth": 1.5},
        "encoding": {
         "x": {"field": "group", "type": "nominal", "sort": null, "scale": {"domain": ["EV","WT","D409A"], "paddingInner": 0.243, "paddingOuter": 0.229}, "axis": {"orient": "bottom", "labels": false, "ticks": false, "title": null, "domainWidth": 1.5, "domainColor": "black"}},
         "xOffset": {"field": "trt", "type": "nominal", "scale": {"domain": ["V","R"], "paddingInner": 0.17, "paddingOuter": 0}},
         "y": {"field": "value", "type": "quantitative", "title": "Relative mRNA", "scale": {"domain": [0, 1.2], "nice": false}, "axis": {"values": [0, 0.6, 1.2], "format": ".1f", "title": "Relative mRNA", "titlePadding": 6}},
         "fill": {"condition": {"test": "datum.trt === 'V'", "value": "black"}, "value": "#c0c0c0"}
        }},
       {"mark": {"type": "rule", "strokeWidth": 1.5, "color": "black"},
        "encoding": {
         "x": {"field": "group", "type": "nominal", "axis": {"orient": "top", "labels": false, "ticks": false, "domain": false, "title": "Osterix", "titleFontSize": 19, "titlePadding": 8}},
         "xOffset": {"field": "trt", "type": "nominal"},
         "y": {"field": "value", "type": "quantitative", "title": "Relative mRNA"},
         "y2": {"field": "hi"}
        }},
       {"mark": {"type": "tick", "orient": "horizontal", "size": 14, "thickness": 1.5, "color": "black"},
        "encoding": {
         "x": {"field": "group", "type": "nominal", "axis": null},
         "xOffset": {"field": "trt", "type": "nominal"},
         "y": {"field": "hi", "type": "quantitative", "title": "Relative mRNA"}
        }},
       {"mark": {"type": "text", "baseline": "alphabetic", "dy": -1, "fontSize": 19},
        "encoding": {
         "x": {"field": "group", "type": "nominal", "axis": null},
         "xOffset": {"field": "trt", "type": "nominal"},
         "y": {"field": "hi", "type": "quantitative", "title": "Relative mRNA"},
         "text": {"field": "sig"}
        }}
      ]
     },
     {
      "width": 225, "height": 76,
      "layer": [
       {"data": {"name": "trtlabs"}, "mark": {"type": "text", "fontSize": 18},
        "encoding": {
         "x": {"field": "group", "type": "nominal", "sort": null, "scale": {"domain": ["EV","WT","D409A"], "paddingInner": 0.243, "paddingOuter": 0.229}, "axis": null},
         "xOffset": {"field": "trt", "type": "nominal", "scale": {"domain": ["V","R"], "paddingInner": 0.17, "paddingOuter": 0}},
         "y": {"field": "tier", "type": "nominal", "bandPosition": 0.62, "scale": {"domain": ["trt","grp","fam"], "paddingInner": 0, "paddingOuter": 0}, "axis": null},
         "text": {"field": "trt"}
        }},
       {"data": {"name": "grplabs"}, "mark": {"type": "rule", "strokeWidth": 1.5, "color": "black"},
        "encoding": {
         "x": {"field": "group", "type": "nominal", "bandPosition": 0.13},
         "x2": {"field": "group", "bandPosition": 0.89},
         "y": {"datum": "trt", "type": "nominal", "bandPosition": 1.0}
        }},
       {"data": {"name": "grplabs"}, "mark": {"type": "text", "fontSize": 18, "baseline": "top", "lineBreak": "\n", "lineHeight": 20},
        "encoding": {
         "x": {"field": "group", "type": "nominal"},
         "y": {"field": "tier", "type": "nominal", "bandPosition": 0.31},
         "text": {"field": "label"}
        }},
       {"data": {"name": "family"}, "mark": {"type": "rule", "strokeWidth": 1.5, "color": "black"},
        "encoding": {
         "x": {"field": "from", "type": "nominal", "bandPosition": 0},
         "x2": {"field": "to", "bandPosition": 1.05},
         "y": {"datum": "fam", "type": "nominal", "bandPosition": 0.13}
        }},
       {"data": {"name": "family"}, "mark": {"type": "text", "fontSize": 18},
        "encoding": {
         "x": {"field": "from", "type": "nominal", "bandPosition": 1.16},
         "y": {"field": "tier", "type": "nominal", "bandPosition": 0.76},
         "text": {"field": "label"}
        }}
      ]
     }
    ],
    "spacing": 7, "bounds": "flush"
   },
   {"width": 51, "height": 1, "data": {"values": []}, "mark": "rect"},
   {
    "vconcat": [
     {
      "width": 225, "height": 153,
      "title": {"text": "H", "dx": -103, "offset": 9},
      "data": {"name": "bars"},
      "transform": [{"filter": "datum.panel === 'H'"}],
      "resolve": {"axis": {"x": "independent"}},
      "layer": [
       {"mark": {"type": "bar", "stroke": "black", "strokeWidth": 1.5},
        "encoding": {
         "x": {"field": "group", "type": "nominal", "sort": null, "scale": {"domain": ["EV","WT","D409A"], "paddingInner": 0.243, "paddingOuter": 0.229}, "axis": {"orient": "bottom", "labels": false, "ticks": false, "title": null, "domainWidth": 1.5, "domainColor": "black"}},
         "xOffset": {"field": "trt", "type": "nominal", "scale": {"domain": ["V","R"], "paddingInner": 0.17, "paddingOuter": 0}},
         "y": {"field": "value", "type": "quantitative", "title": "Relative mRNA", "scale": {"domain": [0, 1.4], "nice": false}, "axis": {"values": [0, 0.7, 1.4], "format": ".1f", "title": "Relative mRNA", "titlePadding": 20}},
         "fill": {"condition": {"test": "datum.trt === 'V'", "value": "black"}, "value": "#c0c0c0"}
        }},
       {"mark": {"type": "rule", "strokeWidth": 1.5, "color": "black"},
        "encoding": {
         "x": {"field": "group", "type": "nominal", "axis": {"orient": "top", "labels": false, "ticks": false, "domain": false, "title": "Wnt10b", "titleFontSize": 19, "titlePadding": 10}},
         "xOffset": {"field": "trt", "type": "nominal"},
         "y": {"field": "value", "type": "quantitative", "title": "Relative mRNA"},
         "y2": {"field": "hi"}
        }},
       {"mark": {"type": "tick", "orient": "horizontal", "size": 14, "thickness": 1.5, "color": "black"},
        "encoding": {
         "x": {"field": "group", "type": "nominal", "axis": null},
         "xOffset": {"field": "trt", "type": "nominal"},
         "y": {"field": "hi", "type": "quantitative", "title": "Relative mRNA"}
        }},
       {"mark": {"type": "text", "baseline": "alphabetic", "dy": -1, "fontSize": 19},
        "encoding": {
         "x": {"field": "group", "type": "nominal", "axis": null},
         "xOffset": {"field": "trt", "type": "nominal"},
         "y": {"field": "hi", "type": "quantitative", "title": "Relative mRNA"},
         "text": {"field": "sig"}
        }}
      ]
     },
     {
      "width": 225, "height": 76,
      "layer": [
       {"data": {"name": "trtlabs"}, "mark": {"type": "text", "fontSize": 18},
        "encoding": {
         "x": {"field": "group", "type": "nominal", "sort": null, "scale": {"domain": ["EV","WT","D409A"], "paddingInner": 0.243, "paddingOuter": 0.229}, "axis": null},
         "xOffset": {"field": "trt", "type": "nominal", "scale": {"domain": ["V","R"], "paddingInner": 0.17, "paddingOuter": 0}},
         "y": {"field": "tier", "type": "nominal", "bandPosition": 0.62, "scale": {"domain": ["trt","grp","fam"], "paddingInner": 0, "paddingOuter": 0}, "axis": null},
         "text": {"field": "trt"}
        }},
       {"data": {"name": "grplabs"}, "mark": {"type": "rule", "strokeWidth": 1.5, "color": "black"},
        "encoding": {
         "x": {"field": "group", "type": "nominal", "bandPosition": 0.13},
         "x2": {"field": "group", "bandPosition": 0.89},
         "y": {"datum": "trt", "type": "nominal", "bandPosition": 1.0}
        }},
       {"data": {"name": "grplabs"}, "mark": {"type": "text", "fontSize": 18, "baseline": "top", "lineBreak": "\n", "lineHeight": 20},
        "encoding": {
         "x": {"field": "group", "type": "nominal"},
         "y": {"field": "tier", "type": "nominal", "bandPosition": 0.31},
         "text": {"field": "label"}
        }},
       {"data": {"name": "family"}, "mark": {"type": "rule", "strokeWidth": 1.5, "color": "black"},
        "encoding": {
         "x": {"field": "from", "type": "nominal", "bandPosition": 0},
         "x2": {"field": "to", "bandPosition": 1.05},
         "y": {"datum": "fam", "type": "nominal", "bandPosition": 0.13}
        }},
       {"data": {"name": "family"}, "mark": {"type": "text", "fontSize": 18},
        "encoding": {
         "x": {"field": "from", "type": "nominal", "bandPosition": 1.16},
         "y": {"field": "tier", "type": "nominal", "bandPosition": 0.76},
         "text": {"field": "label"}
        }}
      ]
     }
    ],
    "spacing": 7, "bounds": "flush"
   }
  ],
  "spacing": 0,
  "resolve": {"scale": {"xOffset": "independent"}}
 }
]
}
